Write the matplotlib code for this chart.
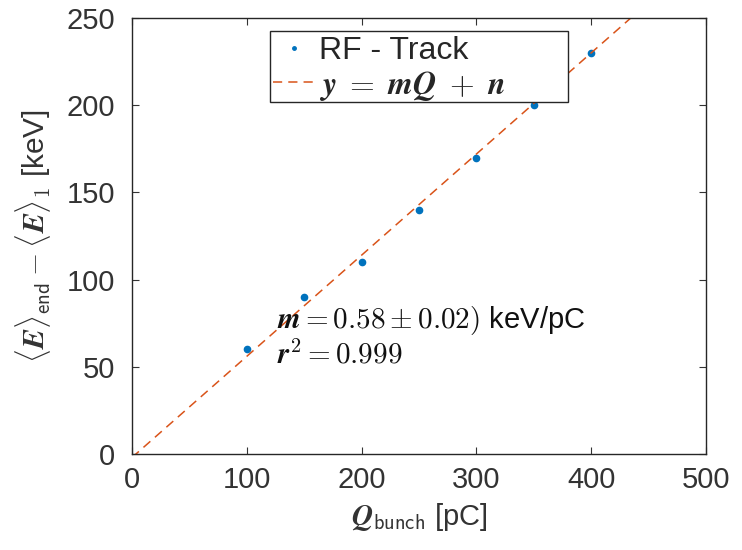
import matplotlib
matplotlib.use("Agg")
import matplotlib.pyplot as plt
from matplotlib.patches import Rectangle
import numpy as np

# Bunch charge [pC] and energy gain [keV]
charge = [100, 150, 200, 250, 300, 350, 400]
energy = [60, 90, 110, 140, 170, 200, 230]
slope = 0.58
intercept = -2.0
x_ticks = [0, 100, 200, 300, 400, 500]
y_ticks = [0, 50, 100, 150, 200, 250]

plt.rcParams["font.family"] = ["Liberation Sans", "DejaVu Sans"]
plt.rcParams["mathtext.fontset"] = "cm"

fig = plt.figure(figsize=(7.42, 5.5), dpi=100)
ax = fig.add_axes([132 / 742, 1 - 454 / 550, (706 - 132) / 742, (454 - 18) / 550])

ax.plot(charge, energy, ls="none", marker="o", ms=4.5, color="#0072BD", label="RF - Track")
xf = np.array([0, 500])
ax.plot(xf, slope * xf + intercept, ls=(0, (6, 4)), lw=1.1, color="#D95319",
        label=r"$\boldsymbol{y \;=\; mQ \;+\; n}$")

ax.set_xlim(0, 500)
ax.set_ylim(0, 250)
ax.set_xticks(x_ticks)
ax.set_yticks(y_ticks)
ax.tick_params(direction="in", which="both", top=True, right=True, length=5,
               labelsize=21, colors="#333333")
ax.tick_params(axis="y", pad=12)
ax.tick_params(axis="x", pad=9)
for s in ax.spines.values():
    s.set_color("#262626")
    s.set_linewidth(1.0)

ax.set_xlabel(r"$\boldsymbol{Q}_{\mathsf{bunch}}$ [pC]", fontsize=21, color="#333333",
              labelpad=5)
ax.set_ylabel(r"$\langle \boldsymbol{E} \rangle_{\mathsf{end}} - \langle \boldsymbol{E} \rangle_{\mathsf{1}}$ [keV]",
              fontsize=21.5, color="#333333", labelpad=10)

ax.text(126, 76.5, r"$\boldsymbol{m} = \mathbf{0.58} \pm \mathbf{0.02)}$ keV/pC", fontsize=21,
        color="#111111", va="center")
ax.text(126, 57, r"$\boldsymbol{r}^\mathbf{2} = \mathbf{0.999}$", fontsize=21, color="#111111",
        va="center")

# Legend with a wider hand-drawn box around it
box_left, box_right, box_bottom, box_top = 0.2404, 0.7596, 0.807, 0.970
ax.add_patch(Rectangle((box_left, box_bottom), box_right - box_left, box_top - box_bottom,
                       transform=ax.transAxes, facecolor="white", edgecolor="#262626",
                       lw=1.0, zorder=4))
leg = ax.legend(loc="upper left", bbox_to_anchor=(box_left, box_top - 0.004), fontsize=23,
                frameon=False, handlelength=1.3, borderpad=0.1, labelspacing=0.08,
                handletextpad=0.12, borderaxespad=0)
leg.set_zorder(5)
leg.legend_handles[0].set_markersize(2.5)
for t in leg.get_texts():
    t.set_color("#262626")

fig.savefig("out.png", dpi=100)
